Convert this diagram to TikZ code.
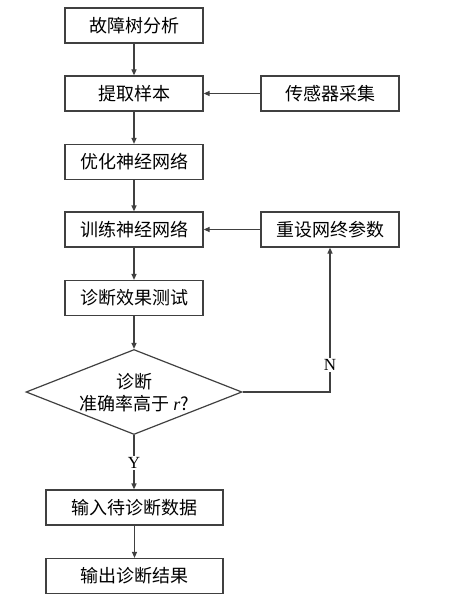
\documentclass[tikz,border=0pt]{standalone}
\usepackage{fontspec}
\setmainfont{Liberation Serif}
\newfontfamily\cjk{Noto Sans CJK SC}
\usetikzlibrary{shapes.geometric,arrows.meta}
\begin{document}
\begin{tikzpicture}[x=1pt,y=-1pt,
  linecol/.style={draw=black!75, line width=1.2pt},
  box/.style={linecol, rectangle, minimum width=138pt, minimum height=35pt, inner sep=0pt, font=\cjk\fontsize{18}{20}\selectfont},
  widebox/.style={box, minimum width=177pt},
  arr/.style={linecol, -{Triangle[length=6pt,width=5pt]}},
  lbl/.style={fill=white, inner sep=1.5pt, font=\fontsize{17}{20}\selectfont}]
\useasboundingbox (0,0) rectangle (450,604);
\node[box] (a) at (134,25.5) {故障树分析};
\node[box] (b) at (134,93.5) {提取样本};
\node[box] (s) at (330,93.5) {传感器采集};
\node[box] (c) at (134,162) {优化神经网络};
\node[box] (d) at (134,229.5) {训练神经网络};
\node[box] (r) at (330,229.5) {重设网终参数};
\node[box] (e) at (134,298) {诊断效果测试};
\node[diamond, linecol, minimum width=216pt, minimum height=85pt, inner sep=0pt] (q) at (134,392) {};
\node[align=center, font=\cjk\fontsize{18}{22}\selectfont] (qt) at (134,393) {诊断\\准确率高于 {\rmfamily\itshape r}?};
\node[widebox] (f) at (134.5,507.5) {输入待诊断数据};
\node[widebox] (g) at (134.5,576) {输出诊断结果};
\draw[arr] (a) -- (b);
\draw[arr] (s) -- (b);
\draw[arr] (b) -- (c);
\draw[arr] (c) -- (d);
\draw[arr] (r) -- (d);
\draw[arr] (d) -- (e);
\draw[arr] (e) -- (q);
\draw[arr] (q.south) -- (q.south |- f.north) node[lbl, pos=0.52] {Y};
\draw[arr] (q.east) -- (q.east -| r.south) -- (r.south) node[lbl, pos=0.185] {N};
\draw[arr] (f) -- (g);
\end{tikzpicture}
\end{document}
